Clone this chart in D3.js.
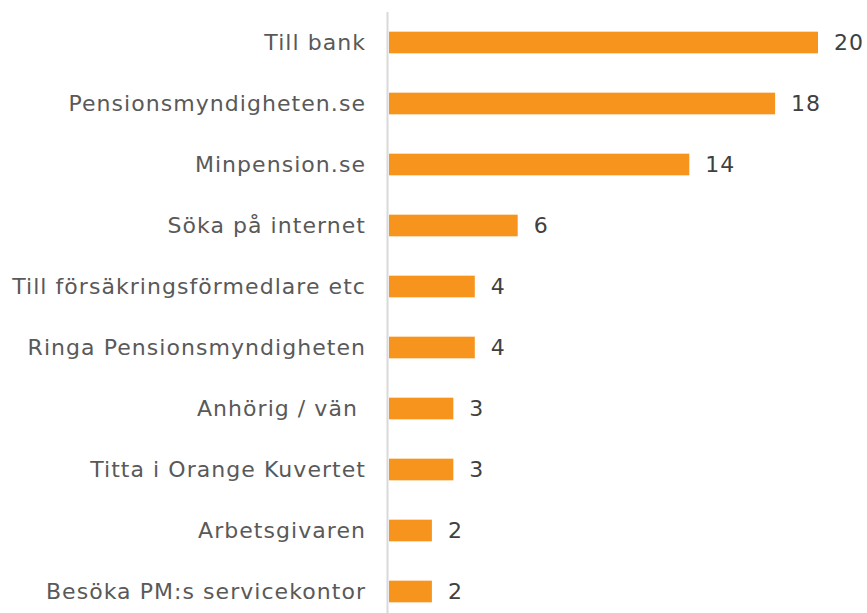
<!DOCTYPE html>
<html><head><meta charset="utf-8">
<script src="https://cdn.jsdelivr.net/npm/d3@7"></script>
<style>body{margin:0;background:#fff}svg{display:block}text{white-space:pre}</style>
</head><body>
<script>
const categories = ["Till bank","Pensionsmyndigheten.se","Minpension.se","Söka på internet","Till försäkringsförmedlare etc","Ringa Pensionsmyndigheten","Anhörig / vän ","Titta i Orange Kuvertet","Arbetsgivaren","Besöka PM:s servicekontor"];
const values = [20,18,14,6,4,4,3,3,2,2];

const W = 867, H = 613;
const svg = d3.select("body").append("svg").attr("width", W).attr("height", H);
const x = d3.scaleLinear().domain([0, 20]).range([389, 818]);
const y = d3.scaleBand().domain(categories).range([12, 622]).paddingInner(0.645).paddingOuter(0.3225);
const font = "'DejaVu Sans', Verdana, sans-serif";

svg.selectAll("rect.bar").data(categories).join("rect")
  .attr("x", x(0)).attr("y", d => y(d))
  .attr("width", (d,i) => x(values[i]) - x(0))
  .attr("height", y.bandwidth())
  .attr("fill", "#f7941d");

svg.append("line").attr("x1", 387.5).attr("x2", 387.5).attr("y1", 12).attr("y2", H)
  .attr("stroke", "#d9d9d9").attr("stroke-width", 2);

svg.selectAll("text.cat").data(categories).join("text")
  .attr("x", 366).attr("y", d => y(d) + y.bandwidth()/2)
  .attr("dy", "0.36em").attr("text-anchor", "end")
  .attr("font-family", font).attr("font-size", 22).attr("letter-spacing", "1.05px").attr("fill", "#595959")
  .text(d => d);

svg.selectAll("text.val").data(categories).join("text")
  .attr("x", (d,i) => x(values[i]) + 16).attr("y", d => y(d) + y.bandwidth()/2)
  .attr("dy", "0.36em")
  .attr("font-family", font).attr("font-size", 22).attr("letter-spacing", "1px").attr("fill", "#404040")
  .text((d,i) => values[i]);
</script>
</body></html>
